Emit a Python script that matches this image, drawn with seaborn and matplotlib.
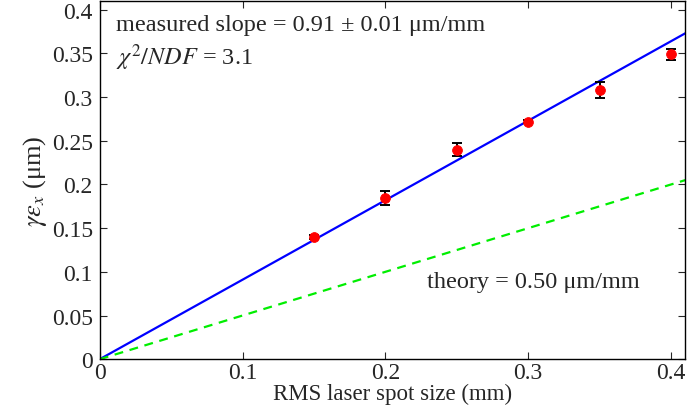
import numpy as np
import matplotlib
matplotlib.use('Agg')
import matplotlib.pyplot as plt
import seaborn as sns

# measured emittance vs laser spot size
spot_size = [0.15, 0.20, 0.25, 0.30, 0.35, 0.40]
emittance = [0.140, 0.184, 0.240, 0.272, 0.308, 0.349]
emit_err = [0.002, 0.008, 0.007, 0.002, 0.009, 0.006]

fit_slope = 0.91
theory_slope = 0.50
x_range = [0.0, 0.41]

sns.set_style('ticks')
plt.rcParams['font.family'] = ['Liberation Serif', 'DejaVu Serif']
plt.rcParams['mathtext.fontset'] = 'stix'

fig, ax = plt.subplots(figsize=(6.88, 4.14), dpi=100)
fig.subplots_adjust(left=0.145, right=0.996, bottom=0.13, top=0.995)

x_line = np.array(x_range)
sns.lineplot(x=x_line, y=fit_slope * x_line, ax=ax, color='#0000ff', lw=1.6)
sns.lineplot(x=x_line, y=theory_slope * x_line, ax=ax, color='#00ee00', lw=1.6,
             linestyle=(0, (4, 3)))

ax.errorbar(spot_size, emittance, yerr=emit_err, fmt='none', ecolor='black',
            elinewidth=1.4, capsize=3.5, capthick=1.4, zorder=3)
sns.scatterplot(x=spot_size, y=emittance, ax=ax, color='red', s=50,
                edgecolor='red', zorder=4)

ax.set_xlim(*x_range)
ax.set_ylim(0, 0.41)
ax.set_xticks([0, 0.1, 0.2, 0.3, 0.4])
ax.set_xticklabels(['0', '0.1', '0.2', '0.3', '0.4'])
ax.set_yticks(np.arange(0, 0.401, 0.05))
ax.set_yticklabels(['0', '0.05', '0.1', '0.15', '0.2', '0.25', '0.3', '0.35', '0.4'])
ax.tick_params(direction='in', top=True, right=True, length=5, width=0.8)
ax.tick_params(axis='x', labelsize=17, pad=2)
ax.tick_params(axis='y', labelsize=17, pad=5)
for s in ax.spines.values():
    s.set_color('black')
    s.set_linewidth(1.0)

ax.set_xlabel('RMS laser spot size (mm)', fontsize=16.5, labelpad=0)
ax.set_ylabel(r'$\gamma\varepsilon_x$ (μm)', fontsize=19, labelpad=2)

ax.text(0.028, 0.935, 'measured slope = 0.91 ± 0.01 μm/mm', transform=ax.transAxes,
        fontsize=17.5, va='center', ha='left')
ax.text(0.028, 0.845, r'$\chi^2/NDF$ = 3.1', transform=ax.transAxes,
        fontsize=17.5, va='center', ha='left')
ax.text(0.559, 0.218, 'theory = 0.50 μm/mm', transform=ax.transAxes,
        fontsize=17.5, va='center', ha='left')

fig.savefig('out.png', dpi=100)
